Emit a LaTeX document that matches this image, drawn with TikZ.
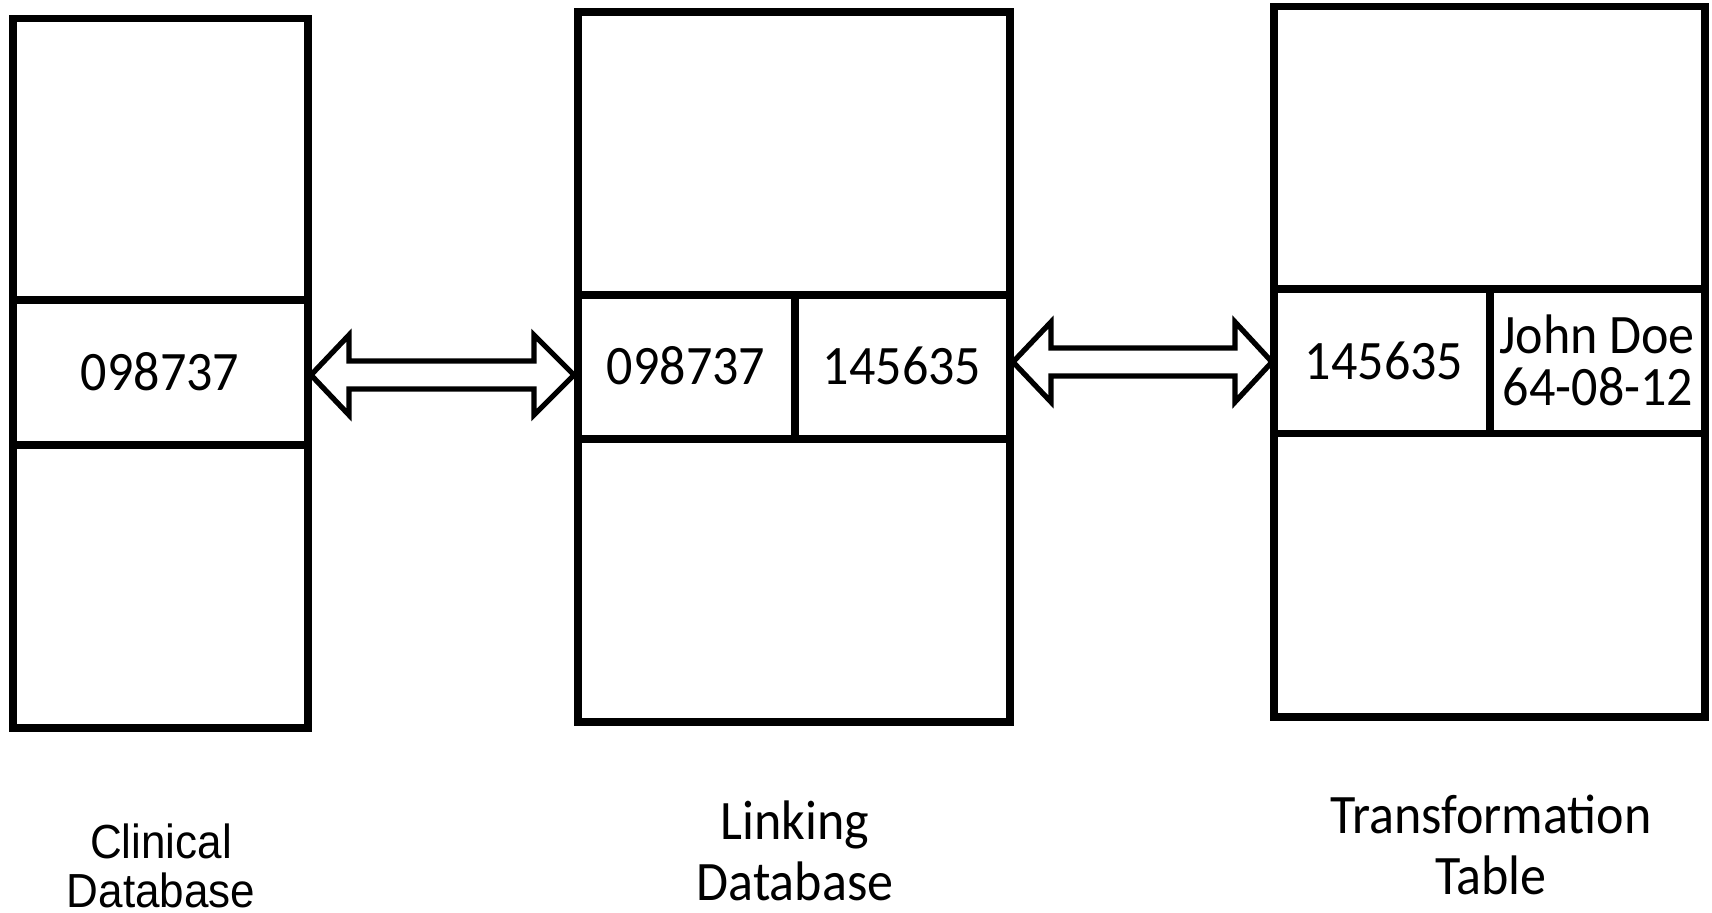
\documentclass[tikz,border=0pt]{standalone}
\usepackage{fontspec}
\usepackage{graphicx}
\newfontfamily\calib{Carlito}
\newfontfamily\arialf{Liberation Sans}
\newcommand{\tallc}[1]{\scalebox{1}[1.07]{#1}}
\newcommand{\narrowa}[1]{\scalebox{0.92}[1]{#1}}
\usetikzlibrary{fit,calc}
\begin{document}
\begin{tikzpicture}[x=0.01cm,y=-0.01cm,
  cell/.style={draw, line width=2.2pt, inner sep=0pt, outer sep=0pt, rectangle},
  celltext/.style={font=\calib\fontsize{14.8}{17.4}\selectfont, inner sep=0pt, anchor=base},
  lbl/.style={font=\calib\fontsize{14.8}{17.4}\selectfont, inner sep=0pt, anchor=base},
  lblarial/.style={font=\arialf\fontsize{13.6}{15}\selectfont, inner sep=0pt, anchor=base},
  blockarrow/.style={draw, fill=white, line width=1.5pt, line join=miter}]
\useasboundingbox (0,0) rectangle (1712,912);

% Clinical database
\node[cell, fit={(13,18.6) (308,300)}] (c1top) {};
\node[cell, fit={(13,300) (308,445)}] (c1mid) {};
\node[cell, fit={(13,445) (308,728)}] (c1bot) {};
\node[celltext] (t1) at (160,390) {\tallc{098737}};

% Linking database
\node[cell, fit={(578,12) (1010,295)}] (c2top) {};
\node[cell, fit={(578,295) (795,439)}] (c2midl) {};
\node[cell, fit={(795,295) (1010,439)}] (c2midr) {};
\node[cell, fit={(578,439) (1010,722)}] (c2bot) {};
\node[celltext] (t2a) at (686,384) {\tallc{098737}};
\node[celltext] (t2b) at (902,384) {\tallc{145635}};

% Transformation table
\node[cell, fit={(1274,6.5) (1705,289)}] (c3top) {};
\node[cell, fit={(1274,289) (1490,433.5)}] (c3midl) {};
\node[cell, fit={(1490,289) (1705,433.5)}] (c3midr) {};
\node[cell, fit={(1274,433.5) (1705,717)}] (c3bot) {};
\node[celltext] (t3a) at (1384,379) {\tallc{145635}};
\node[celltext] (t3b) at (1597,353) {\tallc{John Doe}};
\node[celltext] (t3c) at (1598,405) {\tallc{64-08-12}};

% arrows
\coordinate (a1l) at (311,375);
\coordinate (a1r) at (574,375);
\draw[blockarrow] (a1l) -- ($(a1l)+(38,-40)$) -- ($(a1l)+(38,-14)$) -- ($(a1r)+(-40,-14)$) -- ($(a1r)+(-40,-40)$) -- (a1r) -- ($(a1r)+(-40,40)$) -- ($(a1r)+(-40,14)$) -- ($(a1l)+(38,14)$) -- ($(a1l)+(38,40)$) -- cycle;

\coordinate (a2l) at (1013,362);
\coordinate (a2r) at (1272,362);
\draw[blockarrow] (a2l) -- ($(a2l)+(38,-40)$) -- ($(a2l)+(38,-14)$) -- ($(a2r)+(-37,-14)$) -- ($(a2r)+(-37,-40)$) -- (a2r) -- ($(a2r)+(-37,40)$) -- ($(a2r)+(-37,14)$) -- ($(a2l)+(38,14)$) -- ($(a2l)+(38,40)$) -- cycle;

% labels
\node[lblarial] (l1a) at (161,858) {\narrowa{Clinical}};
\node[lblarial] (l1b) at (161,907) {\narrowa{Database}};
\node[lbl] (l2a) at (795,839) {\tallc{Linking}};
\node[lbl] (l2b) at (795,900) {\tallc{Database}};
\node[lbl] (l3a) at (1491,833) {\tallc{Transformation}};
\node[lbl] (l3b) at (1491,894) {\tallc{Table}};
\end{tikzpicture}
\end{document}
